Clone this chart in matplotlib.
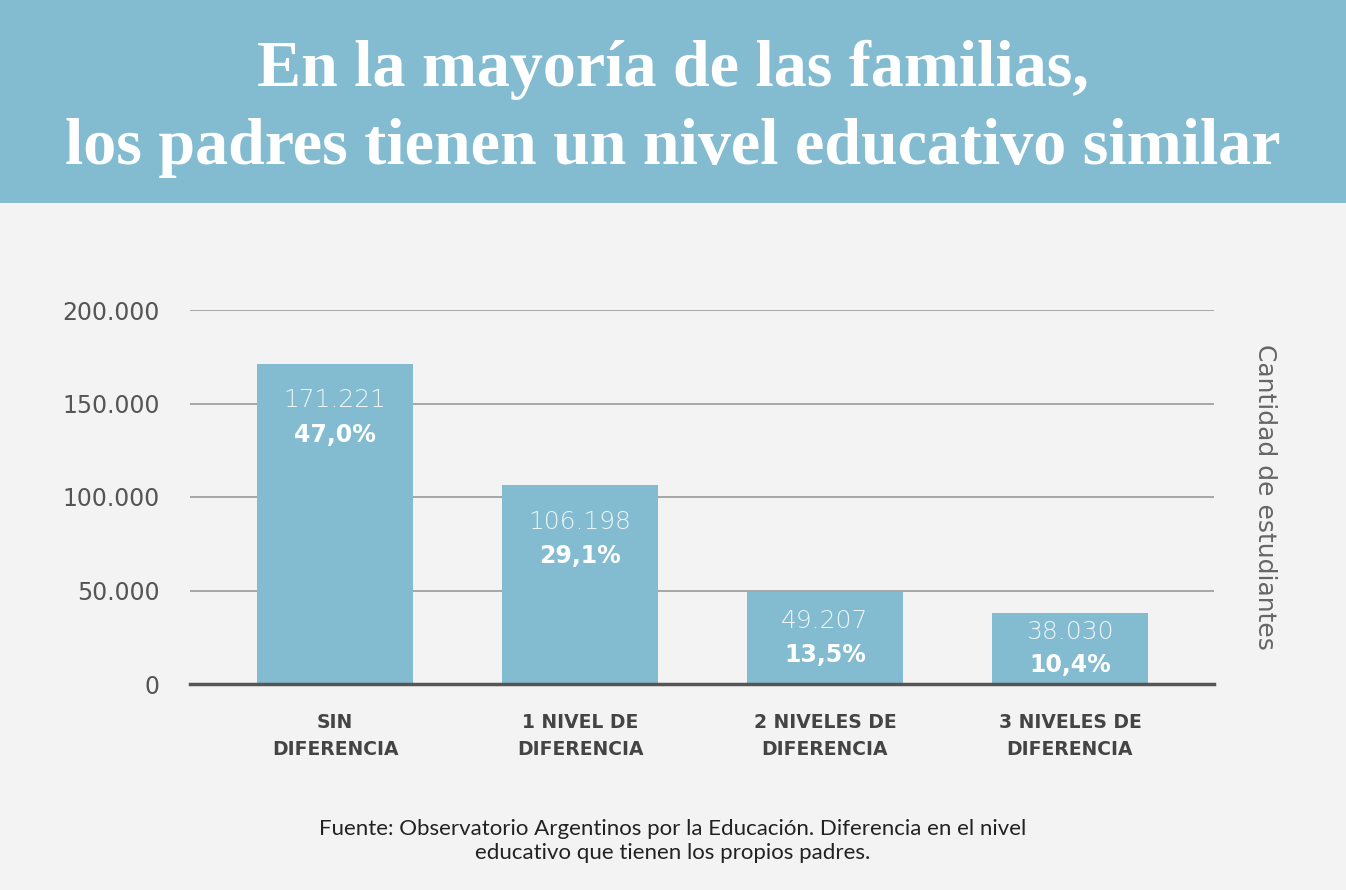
import matplotlib.pyplot as plt
from matplotlib.patches import Rectangle

categories = ["SIN\nDIFERENCIA", "1 NIVEL DE\nDIFERENCIA", "2 NIVELES DE\nDIFERENCIA", "3 NIVELES DE\nDIFERENCIA"]
students = [171221, 106198, 49207, 38030]
shares = ["47,0%", "29,1%", "13,5%", "10,4%"]
y_ticks = [0, 50000, 100000, 150000, 200000]
y_tick_labels = ["0", "50.000", "100.000", "150.000", "200.000"]

BG = "#f3f3f3"
BLUE = "#83bcd1"

fig = plt.figure(figsize=(13.46, 8.90), dpi=100, facecolor=BG)

# banner with title
fig.patches.append(Rectangle((0, 1 - 203 / 890), 1, 203 / 890, transform=fig.transFigure,
                             facecolor=BLUE, edgecolor="none", zorder=0))
fig.text(0.5, 1 - 70 / 890, "En la mayoría de las familias,", ha="center", va="center",
         fontsize=47.5, fontweight="bold", family="Liberation Serif", color="white")
fig.text(0.5, 1 - 148 / 890, "los padres tienen un nivel educativo similar", ha="center", va="center",
         fontsize=47.5, fontweight="bold", family="Liberation Serif", color="white")

ax = fig.add_axes([190 / 1346, 206 / 890, 1024 / 1346, 374 / 890])
ax.set_facecolor(BG)
x = range(len(students))
bars = ax.bar(x, students, width=0.637, color=BLUE, zorder=2)

ax.set_xlim(-0.592, 3.588)
ax.set_ylim(0, 200000)
ax.set_yticks(y_ticks)
ax.set_yticklabels(y_tick_labels, fontsize=17, color="#555555", family="DejaVu Sans")
ax.set_xticks(list(x))
ax.set_xticklabels(categories, fontsize=13.5, fontweight="bold", color="#444444",
                   family="DejaVu Sans", linespacing=1.5)
ax.tick_params(axis="y", length=0, pad=22)
ax.tick_params(axis="x", length=0, pad=21)
ax.grid(axis="y", color="#999999", linewidth=1.2, zorder=1)
for s in ["top", "right", "left"]:
    ax.spines[s].set_visible(False)
ax.spines["bottom"].set_color("#555555")
ax.spines["bottom"].set_linewidth(2.5)
ax.spines["bottom"].set_zorder(3)

ax.yaxis.set_label_position("right")
ax.set_ylabel("Cantidad de estudiantes", rotation=-90, fontsize=18, color="#666666",
              labelpad=28, family="DejaVu Sans", va="bottom")

for bar, val, pct in zip(bars, students, shares):
    cx = bar.get_x() + bar.get_width() / 2
    if val > 60000:
        top = val
        ax.annotate(f"{val:,}".replace(",", "."), (cx, top), xytext=(0, -26), textcoords="offset points",
                    ha="center", va="center", fontsize=18, fontweight="light", color="#eef5f8",
                    family="DejaVu Sans", zorder=4)
        ax.annotate(pct, (cx, top), xytext=(0, -51), textcoords="offset points",
                    ha="center", va="center", fontsize=17, fontweight="bold", color="white",
                    family="DejaVu Sans", zorder=4)
    else:
        mid = val / 2
        ax.annotate(f"{val:,}".replace(",", "."), (cx, mid), xytext=(0, 12), textcoords="offset points",
                    ha="center", va="center", fontsize=18, fontweight="light", color="#eef5f8",
                    family="DejaVu Sans", zorder=4)
        ax.annotate(pct, (cx, mid), xytext=(0, -12), textcoords="offset points",
                    ha="center", va="center", fontsize=17, fontweight="bold", color="white",
                    family="DejaVu Sans", zorder=4)

fig.text(0.5, 1 - 841 / 890,
         "Fuente: Observatorio Argentinos por la Educación. Diferencia en el nivel\n"
         "educativo que tienen los propios padres.",
         ha="center", va="center", fontsize=16, color="#222222", family="Lato", linespacing=1.3)

fig.savefig("out.png", dpi=100, facecolor=BG)
